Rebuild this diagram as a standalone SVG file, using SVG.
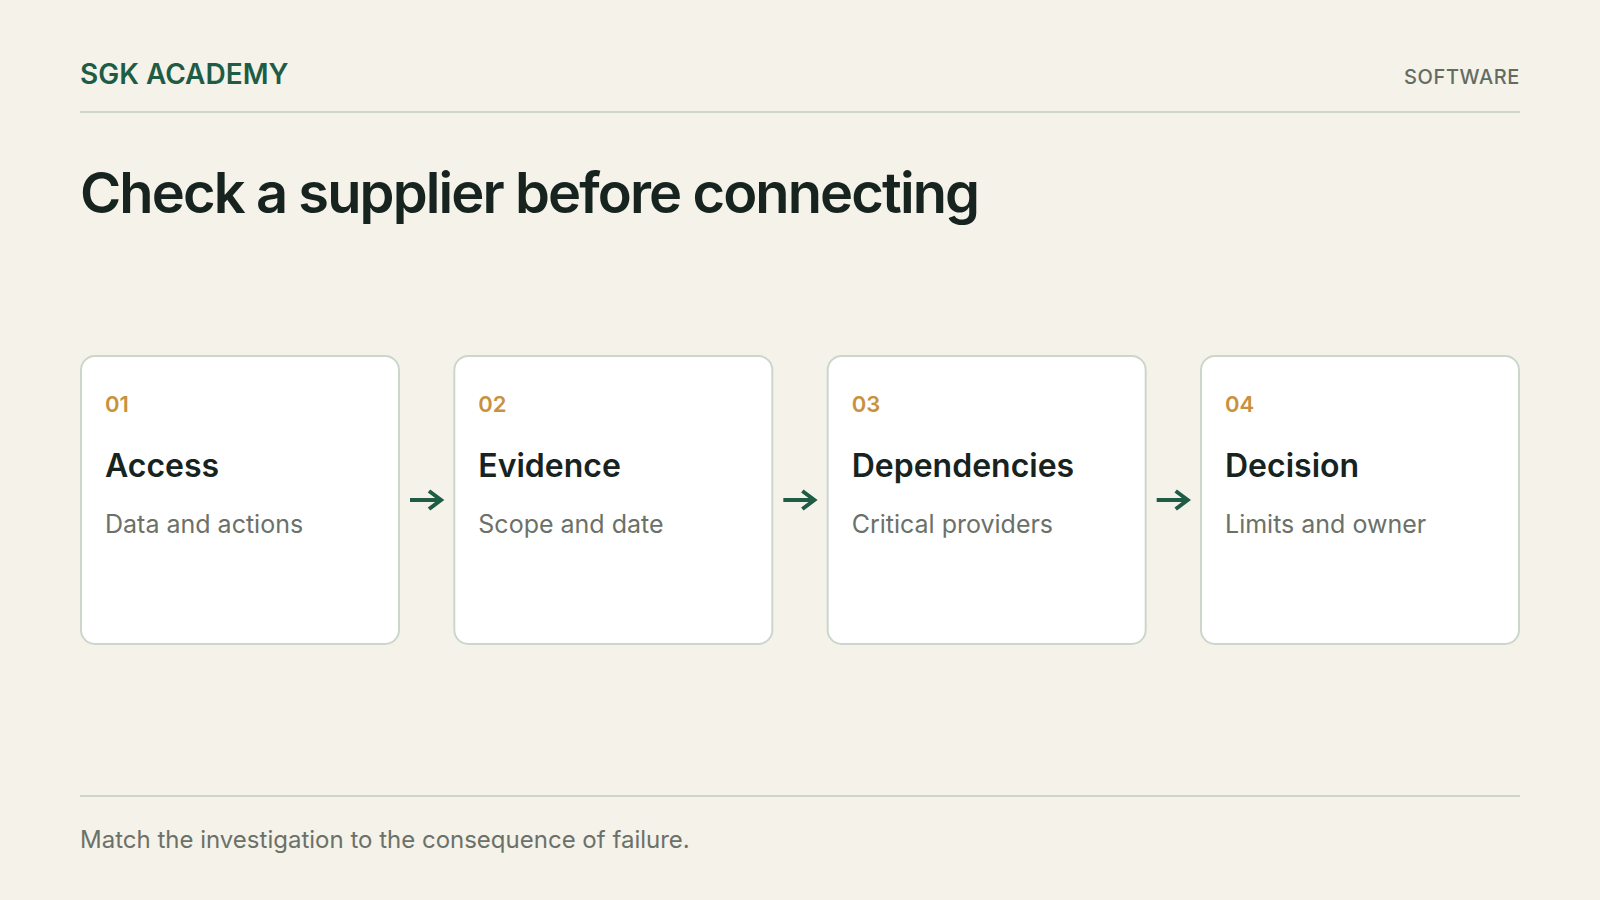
<svg xmlns="http://www.w3.org/2000/svg" width="1600" height="900" viewBox="0 0 1600 900">
  <style>
    .brand { font-family: Inter, "Liberation Sans", sans-serif; font-weight: 600; font-size: 28px; fill: #1f5c45; }
    .tag { font-family: Inter, "Liberation Sans", sans-serif; font-weight: 500; font-size: 20px; fill: #646c62; letter-spacing: 0.6px; }
    .title { font-family: Inter, "Liberation Sans", sans-serif; font-weight: 600; font-size: 56px; fill: #17231e; letter-spacing: -1.9px; }
    .card { fill: #ffffff; stroke: #cdd6ca; stroke-width: 2; }
    .num { font-family: Inter, "Liberation Sans", sans-serif; font-weight: 600; font-size: 22px; fill: #c9913c; }
    .head { font-family: Inter, "Liberation Sans", sans-serif; font-weight: 600; font-size: 32px; fill: #17231e; }
    .sub { font-family: Inter, "Liberation Sans", sans-serif; font-weight: 400; font-size: 25px; fill: #6b7168; }
    .foot { font-family: Inter, "Liberation Sans", sans-serif; font-weight: 400; font-size: 24px; fill: #6b7168; }
    .rule { stroke: #cdd6ca; stroke-width: 2; }
    .arrow { stroke: #1f5c45; stroke-width: 4; fill: none; stroke-linecap: butt; stroke-linejoin: miter; }
  </style>
  <rect x="0" y="0" width="1600" height="900" fill="#f5f2ea"/>
  <g id="header">
    <text class="brand" x="80" y="84">SGK ACADEMY</text>
    <text class="tag" x="1520" y="84" text-anchor="end">SOFTWARE</text>
    <line class="rule" x1="80" y1="112" x2="1520" y2="112"/>
    <text class="title" x="80" y="213">Check a supplier before connecting</text>
  </g>
  <g id="node-01">
    <rect class="card" x="81" y="356" width="318" height="288" rx="14"/>
    <text class="num" x="105" y="412">01</text>
    <text class="head" x="105" y="477">Access</text>
    <text class="sub" x="105" y="533">Data and actions</text>
  </g>
  <g id="node-02">
    <rect class="card" x="454.33" y="356" width="318" height="288" rx="14"/>
    <text class="num" x="478.33" y="412">02</text>
    <text class="head" x="478.33" y="477">Evidence</text>
    <text class="sub" x="478.33" y="533">Scope and date</text>
  </g>
  <g id="node-03">
    <rect class="card" x="827.67" y="356" width="318" height="288" rx="14"/>
    <text class="num" x="851.67" y="412">03</text>
    <text class="head" x="851.67" y="477">Dependencies</text>
    <text class="sub" x="851.67" y="533">Critical providers</text>
  </g>
  <g id="node-04">
    <rect class="card" x="1201" y="356" width="318" height="288" rx="14"/>
    <text class="num" x="1225" y="412">04</text>
    <text class="head" x="1225" y="477">Decision</text>
    <text class="sub" x="1225" y="533">Limits and owner</text>
  </g>
  <g id="connectors">
    <path class="arrow" d="M410 500 H441 M429 491 L441 500 L429 509"/>
    <path class="arrow" d="M783.33 500 H814.33 M802.33 491 L814.33 500 L802.33 509"/>
    <path class="arrow" d="M1156.67 500 H1187.67 M1175.67 491 L1187.67 500 L1175.67 509"/>
  </g>
  <g id="footer">
    <line class="rule" x1="80" y1="796" x2="1520" y2="796"/>
    <text class="foot" x="80" y="848">Match the investigation to the consequence of failure.</text>
  </g>
</svg>
